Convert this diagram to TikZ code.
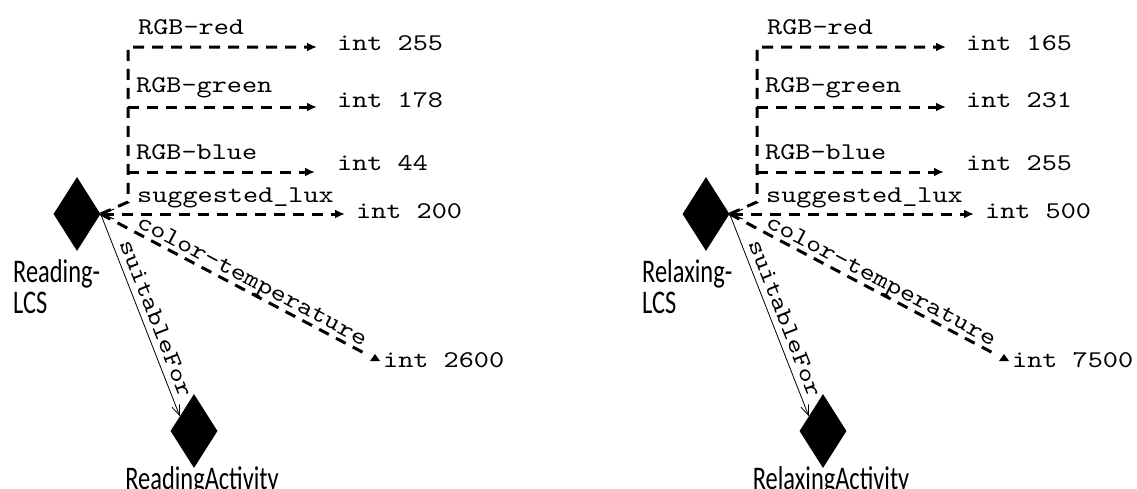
\documentclass[tikz,border=0pt]{standalone}
\usepackage{fontspec}
\newfontfamily\courfont{lmmono10-regular.otf}[FakeStretch=1.2]
\newfontfamily\labfont{Carlito}
\usetikzlibrary{shapes.geometric,arrows.meta,calc}
\tikzset{
  dia/.style={shape=diamond, fill=black, draw=none, minimum width=47pt, minimum height=74pt, inner sep=0pt},
  dl/.style={line width=3pt, dash pattern=on 11pt off 8pt},
  dtip/.style={-{Latex[length=10pt,width=9pt]}},
  lab/.style={font=\fontsize{24}{30}\selectfont\courfont, inner sep=0pt},
  prop/.style={lab, anchor=base west},
  val/.style={lab, anchor=base west},
  ent/.style={font=\fontsize{33}{31}\selectfont\labfont, inner sep=0pt},
  thinarrow/.style={line width=0.8pt, -{Straight Barb[length=10pt,width=8pt]}},
}
\newcommand\lcsgraph[8]{%
\begin{scope}[xshift=#2pt]
 \node[dia] (#1-lcs) at (77,214) {};
 \node[dia] (#1-act) at (194,431) {};
 \node[ent, anchor=base west] (#1-name) at (13,282)
   {\begin{tabular}[t]{@{}l@{}}\scalebox{.74}[1]{#3-}\\\scalebox{.74}[1]{LCS}\end{tabular}};
 \node[ent, anchor=base] (#1-actname) at (202,489) {\scalebox{.74}[1]{#3Activity}};
 \node[val] (#1-v1) at (337,50) {int #4};
 \node[val] (#1-v2) at (337,107) {int #5};
 \node[val] (#1-v3) at (337,170) {int #6};
 \node[val] (#1-v4) at (356,218) {int #7};
 \node[val] (#1-v5) at (383,367) {int #8};
 \node[prop] (#1-p1) at (138,34) {RGB-red};
 \node[prop] (#1-p2) at (136,92) {RGB-green};
 \node[prop] (#1-p3) at (136,159) {RGB-blue};
 \node[prop] (#1-p4) at (137,202) {suggested\_lux};
 \coordinate (#1-sb) at (128,202);
 \coordinate (#1-st) at (128,47);
 \coordinate (#1-sg) at (128,107);
 \coordinate (#1-sbl) at (128,172);
 \coordinate (#1-ct) at (366,354);
 \draw[dl, dtip, shorten >=20pt] (#1-lcs.east) -- (#1-sb) -- (#1-st) -- (#1-st -| #1-v1.west);
 \draw[dl, dtip, shorten >=20pt] (#1-sg) -- (#1-sg -| #1-v2.west);
 \draw[dl, dtip, shorten >=22pt] (#1-sbl) -- (#1-sbl -| #1-v3.west);
 \draw[dl, {Straight Barb[length=12pt,width=10pt,line width=1pt 0]}-{Latex[length=10pt,width=9pt]}, shorten >=11pt]
   (#1-lcs.east) -- (#1-lcs.east -| #1-v4.west);
 \draw[dl] (#1-lcs.east) -- (#1-ct)
   node[lab, sloped, pos=0.55, above=4pt, text depth=0pt] {color-temperature};
 \fill ($(#1-ct)+(9,0)$) -- ++(5,7) -- ++(-10,0) -- cycle;
 \draw[thinarrow] (#1-lcs.east) -- ($(#1-act.west)!0.4!(#1-act.north)$)
   node[lab, sloped, pos=0.54, above=6pt, text depth=0pt] {suitableFor};
\end{scope}}
\begin{document}
\begin{tikzpicture}[x=1pt, y=-1pt]
 \useasboundingbox (0,0) rectangle (1137,488);
 \lcsgraph{l}{0}{Reading}{255}{178}{44}{200}{2600}
 \lcsgraph{r}{629}{Relaxing}{165}{231}{255}{500}{7500}
\end{tikzpicture}
\end{document}
